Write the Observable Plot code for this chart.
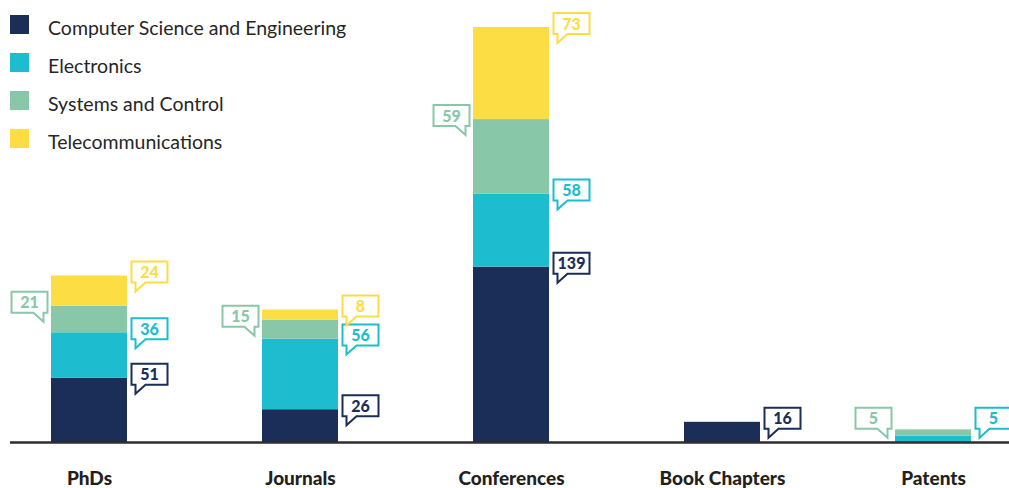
<!DOCTYPE html>
<html><head><meta charset="utf-8">
<script src="https://cdn.jsdelivr.net/npm/d3@7"></script>
<script src="https://cdn.jsdelivr.net/npm/@observablehq/plot@0.6"></script>
<style>
body{margin:0;background:#fff;font-family:Lato,sans-serif;}
#wrap{position:relative;width:1009px;height:488px;overflow:hidden;}
#legend{position:absolute;left:10px;top:15px;}
.item{display:flex;align-items:center;height:19px;margin-bottom:19px;font-size:19.5px;color:#262626;white-space:nowrap;}
.item span.t{position:relative;top:3px;}
.sw{width:19px;height:19px;margin-right:19px;flex:none;}
</style></head><body>
<div id="wrap"><div id="chart"></div><div id="legend"></div></div>
<script>
const categories = ["PhDs", "Journals", "Conferences", "Book Chapters", "Patents"];
const series = ["Computer Science and Engineering", "Electronics", "Systems and Control", "Telecommunications"];
const colors = ["#1a2e57", "#1dbdcf", "#88c7a8", "#fcdd43"];
const cse = [51, 26, 139, 16, 0];
const electronics = [36, 56, 58, 0, 5];
const systemsControl = [21, 15, 59, 0, 5];
const telecom = [24, 8, 73, 0, 0];
const values = [cse, electronics, systemsControl, telecom];

const rows = [];
const totals = [];
categories.forEach((c, i) => {
  let base = 0;
  series.forEach((s, j) => {
    const v = values[j][i];
    rows.push({category: c, series: s, value: v, y1: base, y2: base + v});
    base += v;
  });
  totals.push(base);
});
const labels = rows.filter(d => d.value > 0).map(d => ({...d, anchor: Math.max(d.y2, 16)}));
const leftLabels = labels.filter(d => d.series === series[2]);
const rightLabels = labels.filter(d => d.series !== series[2]);

function callout(sign) {
  const pts = [[-18,-10.5],[18,-10.5],[18,10.5],[-4,10.5],[-14,19.5],[-14,10.5],[-18,10.5]];
  return {draw(ctx) {
    pts.forEach(([x, y], k) => k ? ctx.lineTo(sign * x, y) : ctx.moveTo(sign * x, y));
    ctx.closePath();
  }};
}

const chart = Plot.plot({
  width: 1009, height: 488,
  marginLeft: 50, marginRight: 37, marginTop: 27, marginBottom: 46,
  x: {domain: categories, paddingInner: 0.64, paddingOuter: 0, tickSize: 0, tickPadding: 29, label: null},
  y: {domain: [0, d3.max(totals)], axis: null},
  color: {domain: series, range: colors},
  style: {fontFamily: "Lato, sans-serif", fontSize: "19px", fontWeight: 900, color: "#231f20", overflow: "visible", background: "transparent"},
  marks: [
    Plot.barY(rows.filter(d => d.value > 0), {x: "category", y1: "y1", y2: "y2", fill: "series"}),
    Plot.ruleY([0], {stroke: "#2e2e2e", strokeWidth: 2.5, insetLeft: -40, insetRight: -40}),
    Plot.dot(rightLabels, {x: "category", y: "anchor", dx: 60, dy: -4, symbol: callout(1), fill: "white", stroke: "series", strokeWidth: 2}),
    Plot.dot(leftLabels, {x: "category", y: "anchor", dx: -60, dy: -4, symbol: callout(-1), fill: "white", stroke: "series", strokeWidth: 2}),
    Plot.text(rightLabels, {x: "category", y: "anchor", dx: 60, dy: -3, text: d => String(d.value), fill: "series", fontSize: 16, fontWeight: 900}),
    Plot.text(leftLabels, {x: "category", y: "anchor", dx: -60, dy: -3, text: d => String(d.value), fill: "series", fontSize: 16, fontWeight: 900})
  ]
});
document.getElementById("chart").append(chart);

const legend = document.getElementById("legend");
series.forEach((s, j) => {
  const item = document.createElement("div");
  item.className = "item";
  const sw = document.createElement("span");
  sw.className = "sw";
  sw.style.background = colors[j];
  const t = document.createElement("span");
  t.className = "t";
  t.textContent = s;
  item.append(sw, t);
  legend.append(item);
});
</script>
</body></html>
